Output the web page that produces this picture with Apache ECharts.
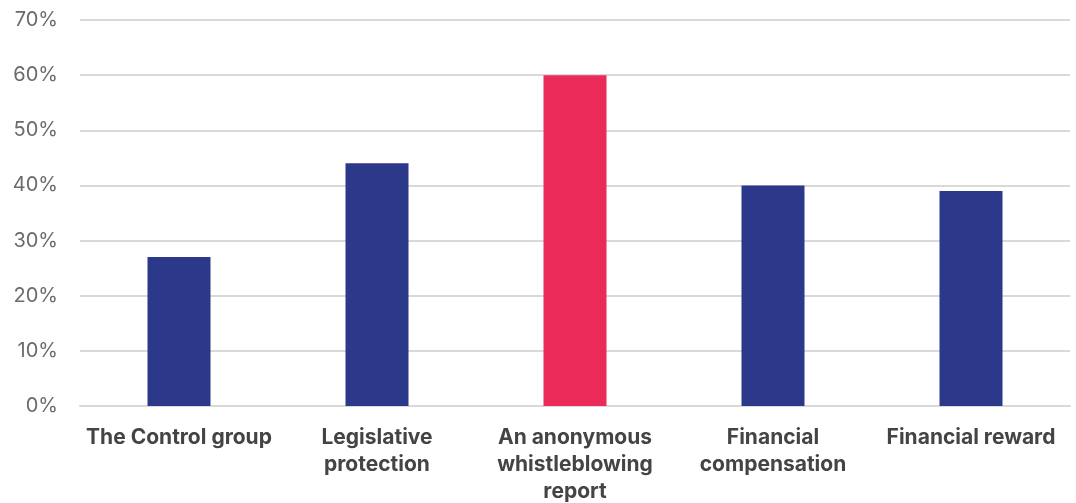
<!DOCTYPE html>
<html>
<head>
<meta charset="utf-8">
<script src="https://cdn.jsdelivr.net/npm/echarts@6/dist/echarts.min.js"></script>
<style>
  html, body { margin: 0; padding: 0; background: #fff; }
  #chart { width: 1076px; height: 503px; }
</style>
</head>
<body>
<div id="chart"></div>
<script>
const categories = ['The Control group', 'Legislative\nprotection', 'An anonymous\nwhistleblowing\nreport', 'Financial\ncompensation', 'Financial reward']
const values = [27, 44, 60, 40, 39]
const highlightIndex = 2
const yTicks = [0, 10, 20, 30, 40, 50, 60, 70]

const chart = echarts.init(document.getElementById('chart'))

chart.setOption({
  animation: false,
  grid: {
    left: 80,
    right: 6,
    top: 20,
    bottom: 97,
    outerBoundsMode: 'none',
    containLabel: false
  },
  xAxis: {
    type: 'category',
    data: categories,
    axisLine: { lineStyle: { color: '#d9d9d9', width: 2 } },
    axisTick: { show: false },
    axisLabel: {
      interval: 0,
      margin: 18,
      color: '#444444',
      fontFamily: 'Inter',
      fontWeight: 'bold',
      fontSize: 21,
      lineHeight: 27,
      verticalAlign: 'top'
    }
  },
  yAxis: {
    type: 'value',
    min: yTicks[0],
    max: yTicks[yTicks.length - 1],
    interval: 10,
    axisLabel: {
      formatter: '{value}%',
      color: '#6b6b6b',
      fontFamily: 'Inter',
      fontSize: 20,
      margin: 22
    },
    splitLine: { lineStyle: { color: '#d9d9d9', width: 2 } }
  },
  series: [{
    type: 'bar',
    barWidth: 63,
    data: values.map((v, i) => ({
      value: v,
      itemStyle: { color: i === highlightIndex ? '#ea2b5a' : '#2c3889' }
    }))
  }]
})
</script>
</body>
</html>
